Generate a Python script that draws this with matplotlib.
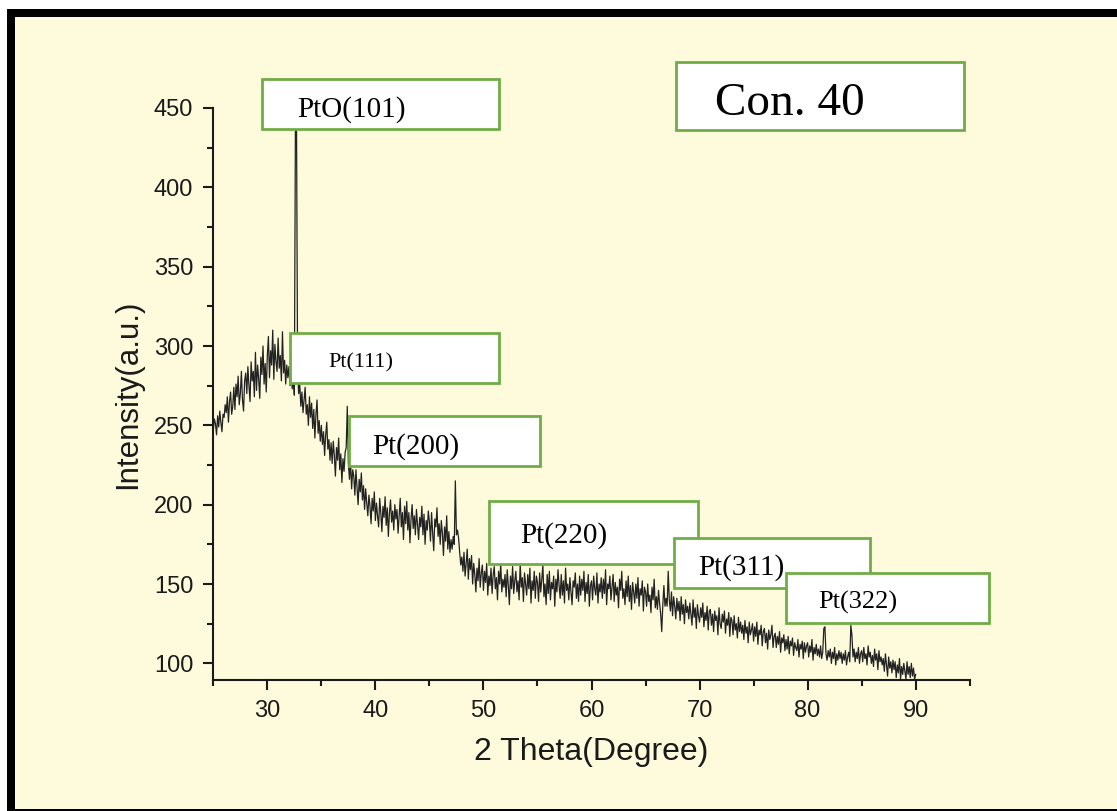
"""
XRD pattern of the Pt / PtO film (Con. 40), with the indexed reflections
boxed the way the original figure shows them.
"""

import numpy as np
import matplotlib
matplotlib.use("Agg")
import matplotlib.pyplot as plt
from matplotlib.patches import Rectangle
from matplotlib.ticker import MultipleLocator

# ── Measured pattern: 2θ from 25° to 90° every 0.1° (one row per degree) ─────
TWO_THETA_START = 25.0
TWO_THETA_STEP = 0.1

intensity = [
    247, 254, 251, 244, 256, 249, 259, 252, 246, 257,   # 25
    255, 263, 258, 268, 252, 265, 271, 257, 262, 274,   # 26
    260, 276, 268, 281, 263, 270, 284, 266, 259, 278,   # 27
    283, 270, 287, 275, 265, 290, 278, 284, 268, 296,   # 28
    272, 288, 279, 267, 293, 282, 300, 276, 289, 271,   # 29
    294, 306, 280, 297, 288, 310, 279, 301, 290, 284,   # 30
    305, 286, 294, 278, 309, 283, 291, 276, 288, 280,   # 31
    287, 275, 290, 273, 281, 269, 440, 443, 284, 270,   # 32
    276, 262, 271, 258, 266, 274, 257, 263, 250, 268,   # 33
    255, 264, 248, 260, 242, 257, 266, 245, 253, 240,   # 34
    250, 238, 246, 231, 244, 252, 235, 241, 228, 239,   # 35
    226, 240, 231, 218, 236, 228, 242, 222, 232, 214,   # 36
    229, 221, 233, 236, 262, 226, 216, 228, 210, 222,   # 37
    218, 206, 222, 211, 200, 216, 208, 220, 203, 212,   # 38
    197, 210, 201, 193, 206, 199, 188, 204, 196, 208,   # 39
    190, 201, 193, 186, 204, 195, 183, 199, 192, 205,   # 40
    187, 198, 180, 195, 203, 189, 196, 184, 200, 191,   # 41
    197, 182, 193, 204, 186, 195, 178, 199, 188, 202,   # 42
    184, 195, 176, 191, 200, 185, 193, 181, 197, 187,   # 43
    178, 192, 186, 199, 181, 194, 175, 190, 184, 196,   # 44
    189, 177, 195, 182, 171, 191, 186, 198, 180, 188,   # 45
    175, 190, 182, 168, 186, 177, 193, 172, 183, 170,   # 46
    178, 172, 180, 175, 215, 181, 184, 179, 170, 162,   # 47
    167, 158, 170, 155, 163, 172, 153, 166, 159, 168,   # 48
    150, 163, 156, 145, 160, 152, 166, 148, 157, 162,   # 49
    146, 158, 151, 163, 143, 155, 149, 160, 144, 156,   # 50
    161, 147, 154, 140, 158, 150, 163, 145, 153, 148,   # 51
    156, 142, 159, 149, 137, 155, 147, 161, 144, 152,   # 52
    158, 145, 152, 140, 163, 148, 154, 139, 157, 150,   # 53
    143, 156, 147, 160, 138, 152, 146, 158, 141, 155,   # 54
    151, 139, 157, 145, 153, 162, 142, 150, 137, 156,   # 55
    144, 158, 140, 151, 147, 155, 136, 153, 145, 159,   # 56
    149, 141, 156, 143, 152, 138, 160, 146, 150, 140,   # 57
    154, 145, 137, 152, 148, 157, 141, 150, 139, 155,   # 58
    143, 153, 146, 158, 139, 151, 144, 156, 136, 149,   # 59
    152, 140, 155, 147, 143, 157, 138, 150, 145, 154,   # 60
    141, 153, 144, 159, 137, 150, 147, 155, 140, 148,   # 61
    156, 139, 151, 143, 148, 135, 153, 146, 158, 141,   # 62
    147, 137, 152, 142, 155, 139, 149, 134, 151, 145,   # 63
    138, 150, 141, 154, 136, 147, 143, 152, 133, 148,   # 64
    145, 136, 150, 139, 143, 132, 148, 140, 153, 135,   # 65
    142, 134, 146, 138, 131, 120, 137, 149, 136, 141,   # 66
    136, 158, 140, 133, 145, 130, 142, 136, 128, 141,   # 67
    133, 139, 127, 142, 131, 137, 125, 140, 132, 136,   # 68
    128, 138, 131, 124, 140, 129, 135, 122, 137, 130,   # 69
    126, 135, 129, 138, 123, 132, 127, 136, 121, 133,   # 70
    134, 124, 131, 120, 133, 127, 130, 118, 135, 125,   # 71
    122, 131, 126, 133, 119, 128, 124, 132, 117, 129,   # 72
    127, 118, 130, 121, 125, 116, 129, 120, 126, 119,   # 73
    124, 115, 127, 119, 123, 113, 126, 118, 121, 125,   # 74
    114, 123, 117, 126, 112, 121, 118, 124, 111, 120,   # 75
    122, 113, 119, 109, 121, 115, 118, 124, 110, 117,   # 76
    119, 110, 117, 112, 120, 107, 116, 113, 118, 108,   # 77
    115, 109, 117, 106, 114, 111, 116, 105, 113, 110,   # 78
    108, 115, 104, 112, 109, 114, 103, 113, 107, 111,   # 79
    113, 104, 111, 107, 115, 102, 110, 106, 112, 105,   # 80
    109, 104, 111, 103, 107, 122, 123, 106, 102, 108,   # 81
    104, 109, 100, 107, 103, 110, 99, 106, 102, 108,    # 82
    103, 107, 100, 106, 102, 108, 99, 104, 107, 101,    # 83
    124, 118, 104, 109, 101, 107, 103, 110, 100, 106,   # 84
    108, 101, 110, 103, 106, 99, 111, 104, 107, 100,    # 85
    105, 98, 109, 102, 106, 96, 108, 101, 104, 99,      # 86
    103, 95, 106, 99, 92, 104, 97, 101, 94, 102,        # 87
    96, 101, 91, 99, 94, 103, 90, 98, 93, 100,          # 88
    95, 90, 101, 93, 98, 91, 100, 92, 97, 90,           # 89
    93,                                                 # 90
]
two_theta = np.round(TWO_THETA_START + TWO_THETA_STEP * np.arange(len(intensity)), 1)

peak_labels = ["PtO(101)", "Pt(111)", "Pt(200)", "Pt(220)", "Pt(311)", "Pt(322)"]
sample_label = "Con. 40"

# ── Layout (pixels on the 1117 x 811 canvas) ─────────────────────────────────
W, H = 1117, 811
BG = "#FEFBDC"
GREEN = "#70AD47"
INK = "#1a1a1a"

# box: left, top, right, bottom ; text: left, baseline, size (pt)
label_boxes = [
    (262, 79, 499, 129), (290, 333, 499, 383), (349, 416, 540, 466),
    (489, 501, 698, 564), (674, 538, 870, 588), (786, 573, 989, 623),
]
label_text = [
    (297, 117, 21), (328, 367, 16), (372, 454, 21),
    (520, 543, 21), (698, 575, 21), (818, 609, 19),
]
sample_box = (676, 62, 964, 130)
sample_text = (715, 115, 34)


def fx(px):
    return px / W


def fy(py):
    return 1 - py / H


fig = plt.figure(figsize=(W / 100, H / 100), dpi=100)
fig.patch.set_facecolor("white")

# black frame (left / top thick, bottom thin) with the pale-yellow panel inside
fig.add_artist(Rectangle((fx(7), 0), 1.0, fy(9), transform=fig.transFigure,
                         facecolor="black", edgecolor="none", zorder=-10))
fig.add_artist(Rectangle((fx(15), fy(809)), 1.0, fy(17) - fy(809),
                         transform=fig.transFigure, facecolor=BG,
                         edgecolor="none", zorder=-9))

ax = fig.add_axes([fx(213.3), fy(680), fx(969.7) - fx(213.3), fy(108) - fy(680)])
ax.set_facecolor("none")

ax.plot(two_theta, intensity, color="#222222", lw=0.9, zorder=2)

ax.set_xlim(25, 95)
ax.set_ylim(89.5, 450)
ax.xaxis.set_minor_locator(MultipleLocator(5))
ax.yaxis.set_minor_locator(MultipleLocator(25))
ax.set_xticks([30, 40, 50, 60, 70, 80, 90])
ax.set_yticks([100, 150, 200, 250, 300, 350, 400, 450])

for side in ("top", "right"):
    ax.spines[side].set_visible(False)
for side in ("left", "bottom"):
    ax.spines[side].set_linewidth(1.5)
    ax.spines[side].set_color(INK)

ax.tick_params(which="major", direction="out", length=7.5, width=1.5,
               colors=INK, labelsize=17, pad=7)
ax.tick_params(which="minor", direction="out", length=4, width=1.5, colors=INK)
for lab in ax.get_xticklabels() + ax.get_yticklabels():
    lab.set_family("Liberation Sans")

ax.set_xlabel("2 Theta(Degree)", fontsize=23, family="Liberation Sans",
              color=INK, labelpad=11)
ax.set_ylabel("Intensity(a.u.)", fontsize=22.5, family="Liberation Sans",
              color=INK, labelpad=8)

# indexed reflections, each box drawn over the previous one
for i, (name, (l, t, r, b), (tx, ty, size)) in enumerate(
        zip(peak_labels, label_boxes, label_text)):
    z = 10 + 2 * i
    fig.add_artist(Rectangle((fx(l), fy(b)), fx(r) - fx(l), fy(t) - fy(b),
                             transform=fig.transFigure, facecolor="white",
                             edgecolor=GREEN, linewidth=2, zorder=z))
    fig.text(fx(tx), fy(ty), name, fontsize=size, family="Liberation Serif",
             color="black", ha="left", va="baseline", zorder=z + 1)

l, t, r, b = sample_box
fig.add_artist(Rectangle((fx(l), fy(b)), fx(r) - fx(l), fy(t) - fy(b),
                         transform=fig.transFigure, facecolor="white",
                         edgecolor=GREEN, linewidth=2, zorder=30))
fig.text(fx(sample_text[0]), fy(sample_text[1]), sample_label,
         fontsize=sample_text[2], family="Liberation Serif", color="black",
         ha="left", va="baseline", zorder=31)

fig.savefig("out.png", dpi=100)
